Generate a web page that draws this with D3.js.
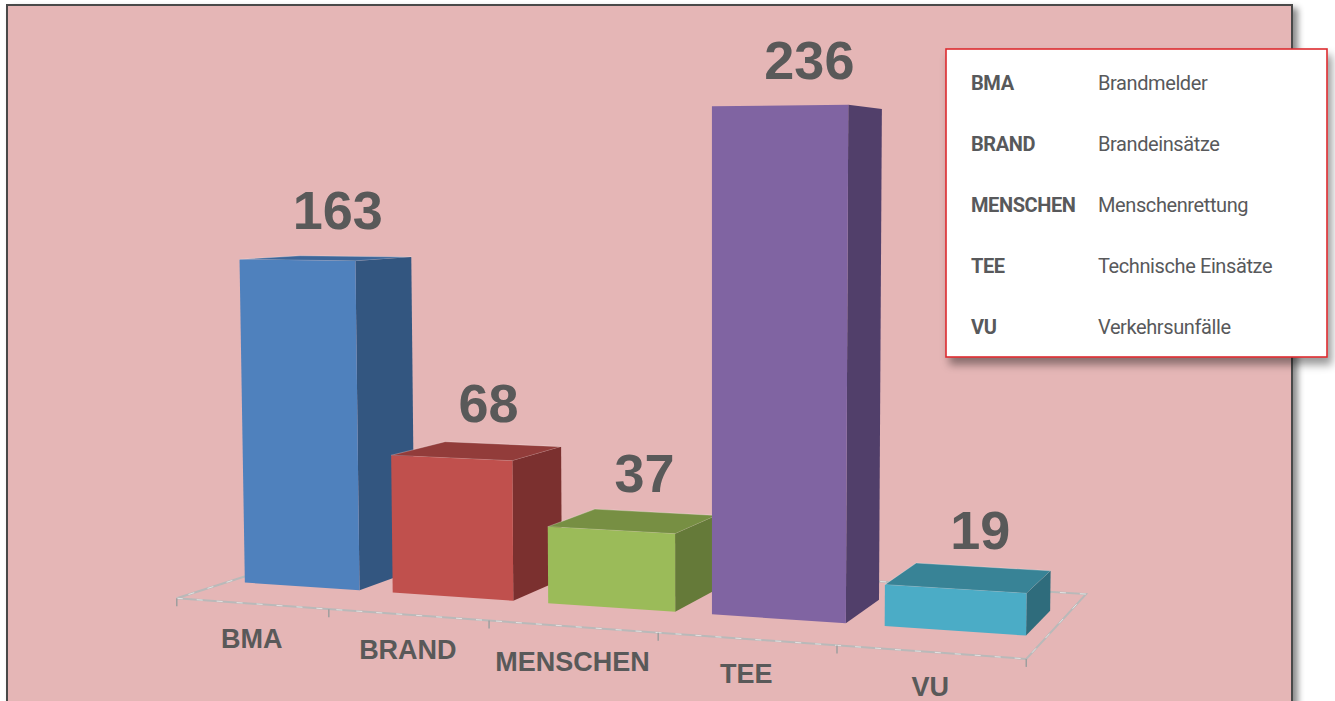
<!DOCTYPE html>
<html>
<head>
<meta charset="utf-8">
<script src="https://cdnjs.cloudflare.com/ajax/libs/d3/7.8.5/d3.min.js"></script>
<style>
  body { margin: 0; background: #fff; }
  svg { display: block; }
</style>
</head>
<body>
<div id="chart"></div>
<script>
// data
var categories = ["BMA", "BRAND", "MENSCHEN", "TEE", "VU"];
var values = [163, 68, 37, 236, 19];
var descriptions = ["Brandmelder", "Brandeinsätze", "Menschenrettung", "Technische Einsätze", "Verkehrsunfälle"];
var frontColors = ["#4f81bd", "#c0504d", "#9bbb59", "#8064a2", "#4bacc6"];
var sideColors = ["#335680", "#7b302f", "#657a39", "#513f6a", "#2f6c7c"];
var topColors = ["#3d6699", "#923c3a", "#778f43", "#65507f", "#388396"];

var W = 1335, H = 701;

var svg = d3.select("#chart").append("svg")
    .attr("width", W)
    .attr("height", H);

var defs = svg.append("defs");
defs.append("filter").attr("id", "panelShadow")
    .attr("x", "-5%").attr("y", "-5%").attr("width", "110%").attr("height", "110%")
  .append("feDropShadow")
    .attr("dx", 5).attr("dy", 4).attr("stdDeviation", 3)
    .attr("flood-color", "#000").attr("flood-opacity", 0.45);
defs.append("filter").attr("id", "legendShadow")
    .attr("x", "-10%").attr("y", "-10%").attr("width", "130%").attr("height", "130%")
  .append("feDropShadow")
    .attr("dx", 4).attr("dy", 7).attr("stdDeviation", 4)
    .attr("flood-color", "#000").attr("flood-opacity", 0.4);

// pink panel
svg.append("rect")
    .attr("x", 7).attr("y", 5)
    .attr("width", 1285).attr("height", 740)
    .attr("fill", "#e5b6b6")
    .attr("stroke", "#4a4a4a")
    .attr("stroke-width", 2)
    .attr("filter", "url(#panelShadow)");

// simple perspective camera (world: x = categories, y = value, z = depth)
var cam = {px: 713, py: 350, f: 2172, yaw: 19, pitch: 4.34, tx: -3.132, ty: -2.406, tz: 12.54};
var cy = Math.cos(cam.yaw * Math.PI / 180), sy = Math.sin(cam.yaw * Math.PI / 180);
var cp = Math.cos(cam.pitch * Math.PI / 180), sp = Math.sin(cam.pitch * Math.PI / 180);
var camHeight = -cam.ty;

function project(X, Y, Z) {
  var lx = cam.tx + X * cy + Z * sy;
  var ly = cam.ty + Y;
  var lz = cam.tz - X * sy + Z * cy;
  var yc = ly * cp + lz * sp;
  var zc = -ly * sp + lz * cp;
  return [cam.px + cam.f * lx / zc, cam.py - cam.f * yc / zc];
}

function poly(pts) {
  return "M" + pts.map(function(p) { var q = project(p[0], p[1], p[2]); return q[0] + "," + q[1]; }).join("L") + "Z";
}

// scales
var floorDepth = 1.86, barDepth = 0.72;
var x = d3.scaleBand().domain(categories).range([0, categories.length])
    .paddingInner(0.22).paddingOuter(0.11);
var y = d3.scaleLinear().domain([0, 250]).range([0, 3.0085]);
var z0 = (floorDepth - barDepth) / 2, z1 = z0 + barDepth;
var nCat = categories.length;

var g = svg.append("g");

// floor outline
g.append("path")
    .attr("d", poly([[0, 0, 0], [nCat, 0, 0], [nCat, 0, floorDepth], [0, 0, floorDepth]]))
    .attr("fill", "none")
    .attr("stroke", "#b9b9b9")
    .attr("stroke-width", 2);
g.append("path")
    .attr("d", poly([[0, 0, 0], [nCat, 0, 0], [nCat, 0, floorDepth], [0, 0, floorDepth]]))
    .attr("fill", "none")
    .attr("stroke", "#f4f4f4")
    .attr("stroke-width", 0.7)
    .attr("stroke-dasharray", "6,14");

// tick marks on the front edge
g.selectAll(".tick")
    .data(d3.range(nCat + 1))
  .enter().append("line")
    .attr("class", "tick")
    .attr("x1", function(d) { return project(d, 0, 0)[0]; })
    .attr("x2", function(d) { return project(d, 0, 0)[0]; })
    .attr("y1", function(d) { return project(d, 0, 0)[1]; })
    .attr("y2", function(d) { return project(d, 0, 0)[1] + 8; })
    .attr("stroke", "#9e9e9e")
    .attr("stroke-width", 1.5);

// bars, drawn left to right (far to near)
categories.forEach(function(c, i) {
  var xa = x(c), xb = x(c) + x.bandwidth(), h = y(values[i]);
  var bar = g.append("g").attr("class", "bar");
  if (h < camHeight) {
    bar.append("path")
        .attr("d", poly([[xa, h, z0], [xb, h, z0], [xb, h, z1], [xa, h, z1]]))
        .attr("fill", topColors[i])
        .attr("stroke", "rgba(255,255,255,0.35)")
        .attr("stroke-width", 0.8);
  }
  bar.append("path")
      .attr("d", poly([[xb, 0, z0], [xb, 0, z1], [xb, h, z1], [xb, h, z0]]))
      .attr("fill", sideColors[i]);
  bar.append("path")
      .attr("d", poly([[xa, 0, z0], [xb, 0, z0], [xb, h, z0], [xa, h, z0]]))
      .attr("fill", frontColors[i]);
});

// value labels
g.selectAll(".val")
    .data(values)
  .enter().append("text")
    .attr("class", "val")
    .attr("x", function(d, i) { return project(x(categories[i]) + x.bandwidth() / 2, y(d), floorDepth / 2)[0] + 11; })
    .attr("y", function(d, i) { return project(x(categories[i]) + x.bandwidth() / 2, y(d), floorDepth / 2)[1] - 29; })
    .attr("text-anchor", "middle")
    .attr("font-family", "'Liberation Sans', Arial, sans-serif")
    .attr("font-weight", "bold")
    .attr("font-size", 54)
    .attr("fill", "#595959")
    .text(function(d) { return d; });

// category labels
g.selectAll(".cat")
    .data(categories)
  .enter().append("text")
    .attr("class", "cat")
    .attr("x", function(d, i) { return project(i + 0.5, 0, 0)[0]; })
    .attr("y", function(d, i) { return project(i + 0.5, 0, 0)[1] + 44; })
    .attr("text-anchor", "middle")
    .attr("font-family", "'Liberation Sans', Arial, sans-serif")
    .attr("font-weight", "bold")
    .attr("font-size", 27)
    .attr("fill", "#595959")
    .text(function(d) { return d; });

// legend box
var legend = svg.append("g").attr("transform", "translate(946,49)");
legend.append("rect")
    .attr("width", 381).attr("height", 308)
    .attr("fill", "#fff")
    .attr("stroke", "#dc2a30")
    .attr("stroke-width", 1.6)
    .attr("filter", "url(#legendShadow)");

var rows = legend.selectAll(".row")
    .data(categories)
  .enter().append("g")
    .attr("class", "row")
    .attr("transform", function(d, i) { return "translate(0," + (41 + i * 61) + ")"; });
rows.append("text")
    .attr("x", 25)
    .attr("font-family", "Roboto, sans-serif")
    .attr("font-weight", "bold")
    .attr("font-size", 20)
    .attr("letter-spacing", -0.4)
    .attr("fill", "#58595b")
    .text(function(d) { return d; });
rows.append("text")
    .attr("x", 152)
    .attr("font-family", "Roboto, sans-serif")
    .attr("font-size", 20)
    .attr("letter-spacing", -0.4)
    .attr("fill", "#58595b")
    .text(function(d, i) { return descriptions[i]; });
</script>
</body>
</html>
